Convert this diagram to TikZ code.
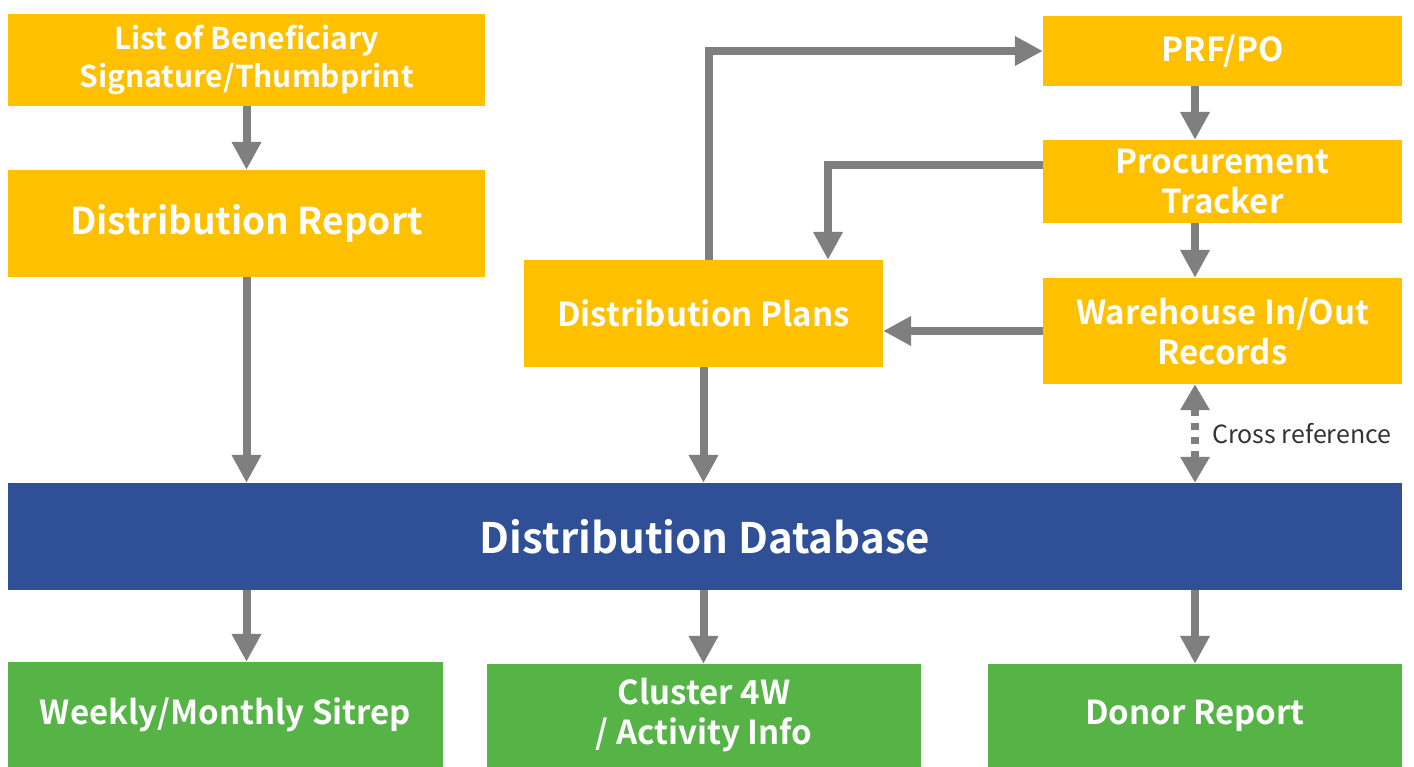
\documentclass[tikz,border=0pt]{standalone}
\usepackage{fontspec}
\setmainfont{Noto Sans CJK JP}[BoldFont={Noto Sans CJK JP Bold}]
\usetikzlibrary{arrows.meta}
\definecolor{boxyellow}{HTML}{FFC000}
\definecolor{boxblue}{HTML}{2F5097}
\definecolor{boxgreen}{HTML}{56B447}
\definecolor{arrowgray}{HTML}{7F7F7F}
\definecolor{labelgray}{HTML}{333333}
\tikzset{
  ybox/.style={fill=boxyellow, draw=none, inner sep=0pt, text=white, align=center},
  gbox/.style={fill=boxgreen, draw=none, inner sep=0pt, text=white, align=center},
  bbox/.style={fill=boxblue, draw=none, inner sep=0pt, text=white, align=center},
  fs/.style={font=\bfseries\fontsize{#1}{#1*1.2}\selectfont},
  flow/.style={draw=arrowgray, line width=8pt, -{Triangle[length=28pt,width=28pt]}},
  xref/.style={draw=arrowgray, line width=8pt, dash pattern=on 7pt off 7pt, {Triangle[length=26pt,width=28pt]}-{Triangle[length=26pt,width=28pt]}},
}
\begin{document}
\begin{tikzpicture}[x=1pt,y=-1pt]
\useasboundingbox (0,0) rectangle (1414,767);
\node[ybox, minimum width=477pt, minimum height=92pt, font=\bfseries\fontsize{30}{38}\selectfont] (list) at (246.5,60) {List of Beneficiary\\Signature/Thumbprint};
\node[ybox, minimum width=477pt, minimum height=107pt, font=\bfseries\fontsize{37}{44}\selectfont] (report) at (246.5,223.5) {Distribution Report};
\node[ybox, minimum width=359pt, minimum height=107pt, font=\bfseries\fontsize{33}{40}\selectfont] (plans) at (703.5,313.5) {Distribution Plans};
\node[ybox, minimum width=359pt, minimum height=70pt, font=\bfseries\fontsize{33}{40}\selectfont] (prf) at (1222.5,51) {PRF/PO};
\node[ybox, minimum width=359pt, minimum height=83pt, font=\bfseries\fontsize{33}{40}\selectfont] (proc) at (1222.5,181.5) {Procurement\\Tracker};
\node[ybox, minimum width=359pt, minimum height=106pt, font=\bfseries\fontsize{33}{40}\selectfont] (ware) at (1222.5,331) {Warehouse In/Out\\Records};
\node[bbox, minimum width=1394pt, minimum height=107pt, font=\bfseries\fontsize{42}{50}\selectfont] (db) at (705,536.5) {Distribution Database};
\node[gbox, minimum width=435pt, minimum height=105pt, font=\bfseries\fontsize{33}{40}\selectfont] (weekly) at (225.5,714.5) {Weekly/Monthly Sitrep};
\node[gbox, minimum width=434pt, minimum height=103pt, font=\bfseries\fontsize{33}{40}\selectfont] (cluster) at (704,715.5) {Cluster 4W\\/ Activity Info};
\node[gbox, minimum width=414pt, minimum height=103pt, font=\bfseries\fontsize{33}{40}\selectfont] (donor) at (1195,715.5) {Donor Report};
% upper flows
\draw[flow] (list) -- (report);
\draw[flow] (report.south) -- (report.south |- db.north);
\draw[flow] (plans.south) -- (plans.south |- db.north);
\draw[flow] ([xshift=5.5pt]plans.north) |- (prf.west);
\draw[flow] ([yshift=16.5pt]proc.west) -| ([xshift=124.5pt]plans.north);
\draw[flow] (ware.west) -- (ware.west -| plans.east);
\draw[flow] ([xshift=-27.5pt]prf.south) -- ([xshift=-27.5pt]proc.north);
\draw[flow] ([xshift=-27.5pt]proc.south) -- ([xshift=-27.5pt]ware.north);
\draw[xref] ([xshift=-27.5pt]ware.south) -- ([xshift=-27.5pt]ware.south |- db.north)
  node[midway, right=10pt, text=labelgray, font=\fontsize{25}{30}\selectfont] (xlabel) {Cross reference};
% outputs
\draw[flow] (report.south |- db.south) -- (report.south |- weekly.north);
\draw[flow] (plans.south |- db.south) -- (plans.south |- cluster.north);
\draw[flow] (donor.north |- db.south) -- (donor.north);
\end{tikzpicture}
\end{document}
